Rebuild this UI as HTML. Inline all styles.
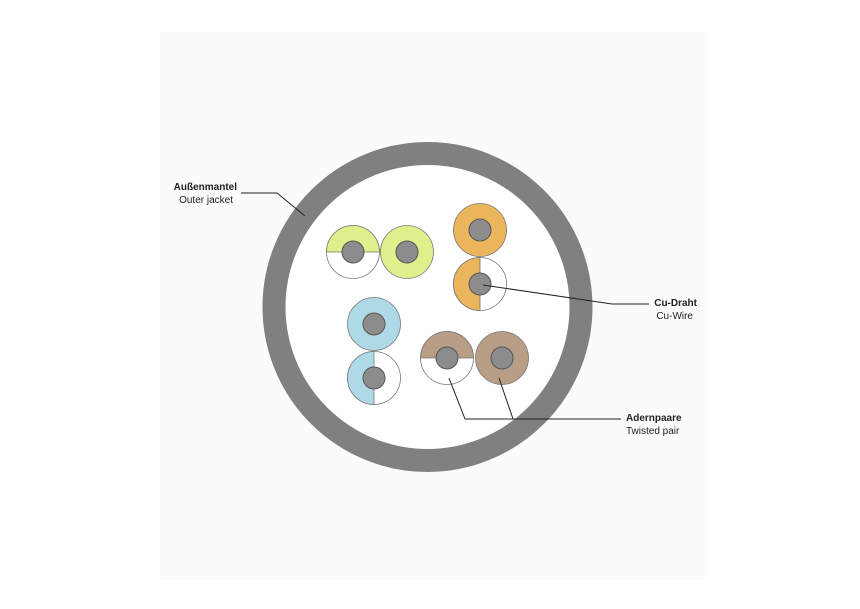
<!DOCTYPE html>
<html><head><meta charset="utf-8"><style>
html,body{margin:0;padding:0;background:#fff;}
svg{display:block;}
text{font-family:"Liberation Sans",sans-serif;font-size:10px;fill:#222;}
.b{font-weight:bold;}
</style></head><body>
<svg width="860" height="609" viewBox="0 0 860 609">
<rect x="160" y="32" width="545" height="548" fill="#fbfbfb"/>
<circle cx="427.5" cy="307" r="153.5" fill="#fff" stroke="#808080" stroke-width="23"/>
<g stroke="#777" stroke-width="0.8">
<!-- green pair -->
<circle cx="353" cy="252" r="26.5" fill="#fff"/>
<path d="M326.5 252 A26.5 26.5 0 0 1 379.5 252 Z" fill="#def08c"/>
<circle cx="407" cy="252" r="26.5" fill="#def08c"/>
<!-- orange -->
<circle cx="480" cy="230" r="26.5" fill="#ebb55c"/>
<circle cx="480" cy="284" r="26.5" fill="#fff"/>
<path d="M480 257.5 A26.5 26.5 0 0 0 480 310.5 Z" fill="#ebb55c"/>
<!-- blue -->
<circle cx="374" cy="324" r="26.5" fill="#aed9e6"/>
<circle cx="374" cy="378" r="26.5" fill="#fff"/>
<path d="M374 351.5 A26.5 26.5 0 0 0 374 404.5 Z" fill="#aed9e6"/>
<!-- brown -->
<circle cx="447" cy="358" r="26.5" fill="#fff"/>
<path d="M420.5 358 A26.5 26.5 0 0 1 473.5 358 Z" fill="#b89e86"/>
<circle cx="502" cy="358" r="26.5" fill="#b89e86"/>
</g>
<g fill="#8c8c8c" stroke="#555" stroke-width="1">
<circle cx="353" cy="252" r="11"/><circle cx="407" cy="252" r="11"/>
<circle cx="480" cy="230" r="11"/><circle cx="480" cy="284" r="11"/>
<circle cx="374" cy="324" r="11"/><circle cx="374" cy="378" r="11"/>
<circle cx="447" cy="358" r="11"/><circle cx="502" cy="358" r="11"/>
</g>
<g stroke="#222" stroke-width="1" fill="none">
<polyline points="241,193 277,193 305,216"/>
<polyline points="483,285 612,304 649,304"/>
<polyline points="449,378 465,419 621,419"/>
<line x1="499" y1="378" x2="513" y2="419"/>
</g>
<text class="b" x="237" y="190" text-anchor="end">Außenmantel</text>
<text x="233" y="203" text-anchor="end">Outer jacket</text>
<text class="b" x="697" y="306" text-anchor="end">Cu-Draht</text>
<text x="693" y="319" text-anchor="end">Cu-Wire</text>
<text class="b" x="626" y="421">Adernpaare</text>
<text x="626" y="434">Twisted pair</text>
</svg>
</body></html>
